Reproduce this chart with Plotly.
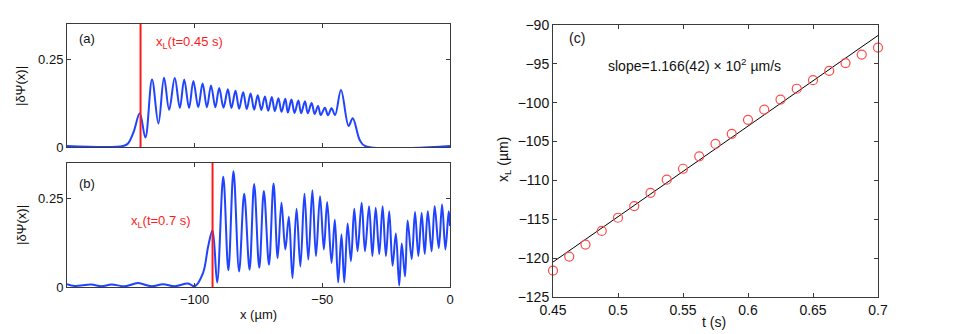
import plotly.graph_objects as go

W, H = 969, 334

# (a) |dPsi(x)| at t=0.45 s -- peaks/troughs
xa = [-150.0, -128.0, -126.1, -123.9, -121.5, -119.3, -116.7, -114.2, -112.0, -110.0,
      -107.8, -105.8, -104.1, -102.2, -100.5, -98.6, -96.9, -95.2, -93.6, -91.9,
      -90.4, -88.7, -87.0, -85.6, -84.0, -82.6, -81.0, -79.6, -78.1, -76.7,
      -75.3, -73.9, -72.5, -71.2, -69.8, -68.6, -67.2, -66.0, -64.5, -63.5,
      -62.1, -60.9, -59.4, -58.3, -56.8, -55.7, -54.2, -53.0, -51.7, -50.6,
      -49.0, -47.8, -46.4, -45.0, -42.7, -39.7, -38.1, -35.3, -33.3, 0.0]
ya = [0.003, 0.003, 0.010, 0.043, 0.096, 0.027, 0.192, 0.067, 0.197, 0.106,
      0.196, 0.111, 0.192, 0.111, 0.188, 0.113, 0.181, 0.113, 0.175, 0.113,
      0.168, 0.112, 0.164, 0.111, 0.160, 0.109, 0.156, 0.108, 0.152, 0.106,
      0.147, 0.105, 0.144, 0.103, 0.142, 0.102, 0.139, 0.100, 0.137, 0.098,
      0.135, 0.097, 0.132, 0.096, 0.130, 0.096, 0.125, 0.094, 0.117, 0.091,
      0.112, 0.090, 0.110, 0.091, 0.162, 0.060, 0.082, 0.019, 0.003, 0.003]

# (b) |dPsi(x)| at t=0.7 s
xb = [-150.0, -147.0, -140.5, -136.5, -132.6, -127.4, -122.2, -116.9, -112.4, -107.8,
      -102.6, -100.0, -96.7, -94.7, -93.0, -91.2, -88.8, -86.8, -84.8, -82.6,
      -80.6, -78.5, -76.7, -74.7, -72.9, -70.9, -69.1, -67.5, -66.0, -64.5,
      -63.1, -61.7, -60.1, -58.6, -57.0, -55.5, -53.9, -52.5, -50.9, -49.4,
      -48.1, -46.4, -45.1, -43.8, -42.5, -41.4, -40.1, -38.8, -37.5, -36.2,
      -34.6, -33.3, -31.7, -30.4, -29.1, -27.7, -26.4, -25.1, -23.8, -22.5,
      -21.2, -19.9, -18.9, -17.6, -16.6, -15.0, -13.7, -12.4, -11.1, -9.9,
      -8.7, -7.2, -6.0, -4.4, -3.1, -1.8, -0.5, 0.0]
yb = [0.008, 0.003, 0.007, 0.002, 0.007, 0.002, 0.011, 0.002, 0.008, 0.002,
      0.010, 0.002, 0.040, 0.115, 0.160, 0.013, 0.311, 0.047, 0.327, 0.044,
      0.263, 0.049, 0.291, 0.054, 0.271, 0.063, 0.292, 0.082, 0.238, 0.106,
      0.198, 0.025, 0.221, 0.058, 0.263, 0.077, 0.273, 0.087, 0.256, 0.106,
      0.240, 0.068, 0.190, 0.013, 0.148, 0.013, 0.179, 0.073, 0.221, 0.101,
      0.238, 0.101, 0.228, 0.087, 0.224, 0.093, 0.228, 0.087, 0.214, 0.060,
      0.151, 0.004, 0.123, 0.030, 0.188, 0.079, 0.212, 0.087, 0.209, 0.093,
      0.214, 0.101, 0.228, 0.110, 0.233, 0.106, 0.214, 0.172]

xL_a = -121.2
xL_b = -93.0

# (c) front position vs time
t = [0.45, 0.4625, 0.475, 0.4875, 0.5, 0.5125, 0.525, 0.5375, 0.55, 0.5625, 0.575,
     0.5875, 0.6, 0.6125, 0.625, 0.6375, 0.65, 0.6625, 0.675, 0.6875, 0.7]
xL = [-121.6, -119.8, -118.25, -116.5, -114.8, -113.3, -111.6, -109.9, -108.5, -106.9,
      -105.3, -104.0, -102.2, -100.9, -99.6, -98.2, -97.1, -95.9, -94.9, -93.8, -92.9]
fit_slope = 116.6   # um/s
fit_start = -120.5  # fit value at t[0]

blue = "#2043ff"
red = "#ff1a1a"
axcol = "#3a3a3a"
fam = "Liberation Sans, Arial, sans-serif"


# window pixels -> paper fractions
def px(x):
    return x / W


def py(y):
    return 1 - y / H


def ax(**kw):
    d = dict(showline=True, linecolor=axcol, linewidth=1, mirror="ticks",
             ticks="inside", ticklen=4, tickcolor=axcol, showgrid=False,
             zeroline=False, automargin=False,
             tickfont=dict(family=fam, size=13, color="#111"))
    d.update(kw)
    return d


fig = go.Figure()

fig.add_trace(go.Scatter(x=xa, y=ya, mode="lines", xaxis="x", yaxis="y",
                         line=dict(color=blue, width=2, shape="spline")))
fig.add_trace(go.Scatter(x=[xL_a, xL_a], y=[0, 0.35], mode="lines", xaxis="x", yaxis="y",
                         line=dict(color=red, width=2)))

fig.add_trace(go.Scatter(x=xb, y=yb, mode="lines", xaxis="x2", yaxis="y2",
                         line=dict(color=blue, width=2, shape="spline")))
fig.add_trace(go.Scatter(x=[xL_b, xL_b], y=[0, 0.35], mode="lines", xaxis="x2", yaxis="y2",
                         line=dict(color=red, width=2)))

tt = [t[0], t[-1]]
fig.add_trace(go.Scatter(x=tt, y=[fit_start + fit_slope * (v - t[0]) for v in tt],
                         mode="lines", xaxis="x3", yaxis="y3",
                         line=dict(color="black", width=1)))
fig.add_trace(go.Scatter(x=t, y=xL, mode="markers", xaxis="x3", yaxis="y3", cliponaxis=False,
                         marker=dict(symbol="circle-open", size=9, color="#ff4a4a",
                                     line=dict(width=1.2))))

left = [px(67), px(450)]
fig.update_layout(
    width=W, height=H, margin=dict(l=0, r=0, t=0, b=0),
    paper_bgcolor="white", plot_bgcolor="white", showlegend=False,
    xaxis=ax(domain=left, anchor="y", range=[-150, 0], tickvals=[-100, -50],
             showticklabels=False),
    yaxis=ax(domain=[py(147), py(24)], anchor="x", range=[0, 0.35],
             tickvals=[0, 0.25], ticktext=["0", "0.25"]),
    xaxis2=ax(domain=left, anchor="y2", range=[-150, 0], tickvals=[-100, -50, 0]),
    yaxis2=ax(domain=[py(287), py(163)], anchor="x2", range=[0, 0.35],
              tickvals=[0, 0.25], ticktext=["0", "0.25"]),
    xaxis3=ax(domain=[px(553), px(878)], anchor="y3", range=[0.45, 0.7],
              tickvals=[0.45, 0.5, 0.55, 0.6, 0.65, 0.7],
              tickfont=dict(family=fam, size=14, color="#111")),
    yaxis3=ax(domain=[py(297), py(25)], anchor="x3", range=[-125, -90], dtick=5,
              tickfont=dict(family=fam, size=14, color="#111")),
)

f13 = dict(family=fam, size=13, color="#111")
f14 = dict(family=fam, size=14, color="#111")
anns = [
    dict(x=px(77), y=py(39), text="(a)", font=f13, xanchor="left"),
    dict(x=px(77), y=py(183), text="(b)", font=f13, xanchor="left"),
    dict(x=px(567), y=py(38), text="(c)", font=f14, xanchor="left"),
    dict(x=px(154), y=py(43), text="x<sub>L</sub>(t=0.45 s)", xanchor="left",
         font=dict(family=fam, size=13, color=red)),
    dict(x=px(129), y=py(221), text="x<sub>L</sub>(t=0.7 s)", xanchor="left",
         font=dict(family=fam, size=13, color=red)),
    dict(x=px(606), y=py(65), text="slope=1.166(42) \u00d7 10<sup>2</sup> \u00b5m/s",
         xanchor="left", font=f14),
    dict(x=px(21), y=py(86), text="|\u03b4\u03a8(x)|", textangle=-90, font=f13),
    dict(x=px(21), y=py(225), text="|\u03b4\u03a8(x)|", textangle=-90, font=f13),
    dict(x=px(258), y=py(314), text="x (\u00b5m)", font=f13),
    dict(x=px(714), y=py(322), text="t (s)", font=f14),
    dict(x=px(504), y=py(160), text="x<sub>L</sub> (\u00b5m)", textangle=-90, font=f14),
]
for a in anns:
    a.update(xref="paper", yref="paper", showarrow=False)
    a.setdefault("xanchor", "center")
    a.setdefault("yanchor", "middle")
fig.update_layout(annotations=anns)

# drop the default 8px page margin so the figure fills the window exactly
fig.write_html("out.html", config={"displayModeBar": False},
               post_script="document.body.style.margin='0px';document.body.style.overflow='hidden';")
